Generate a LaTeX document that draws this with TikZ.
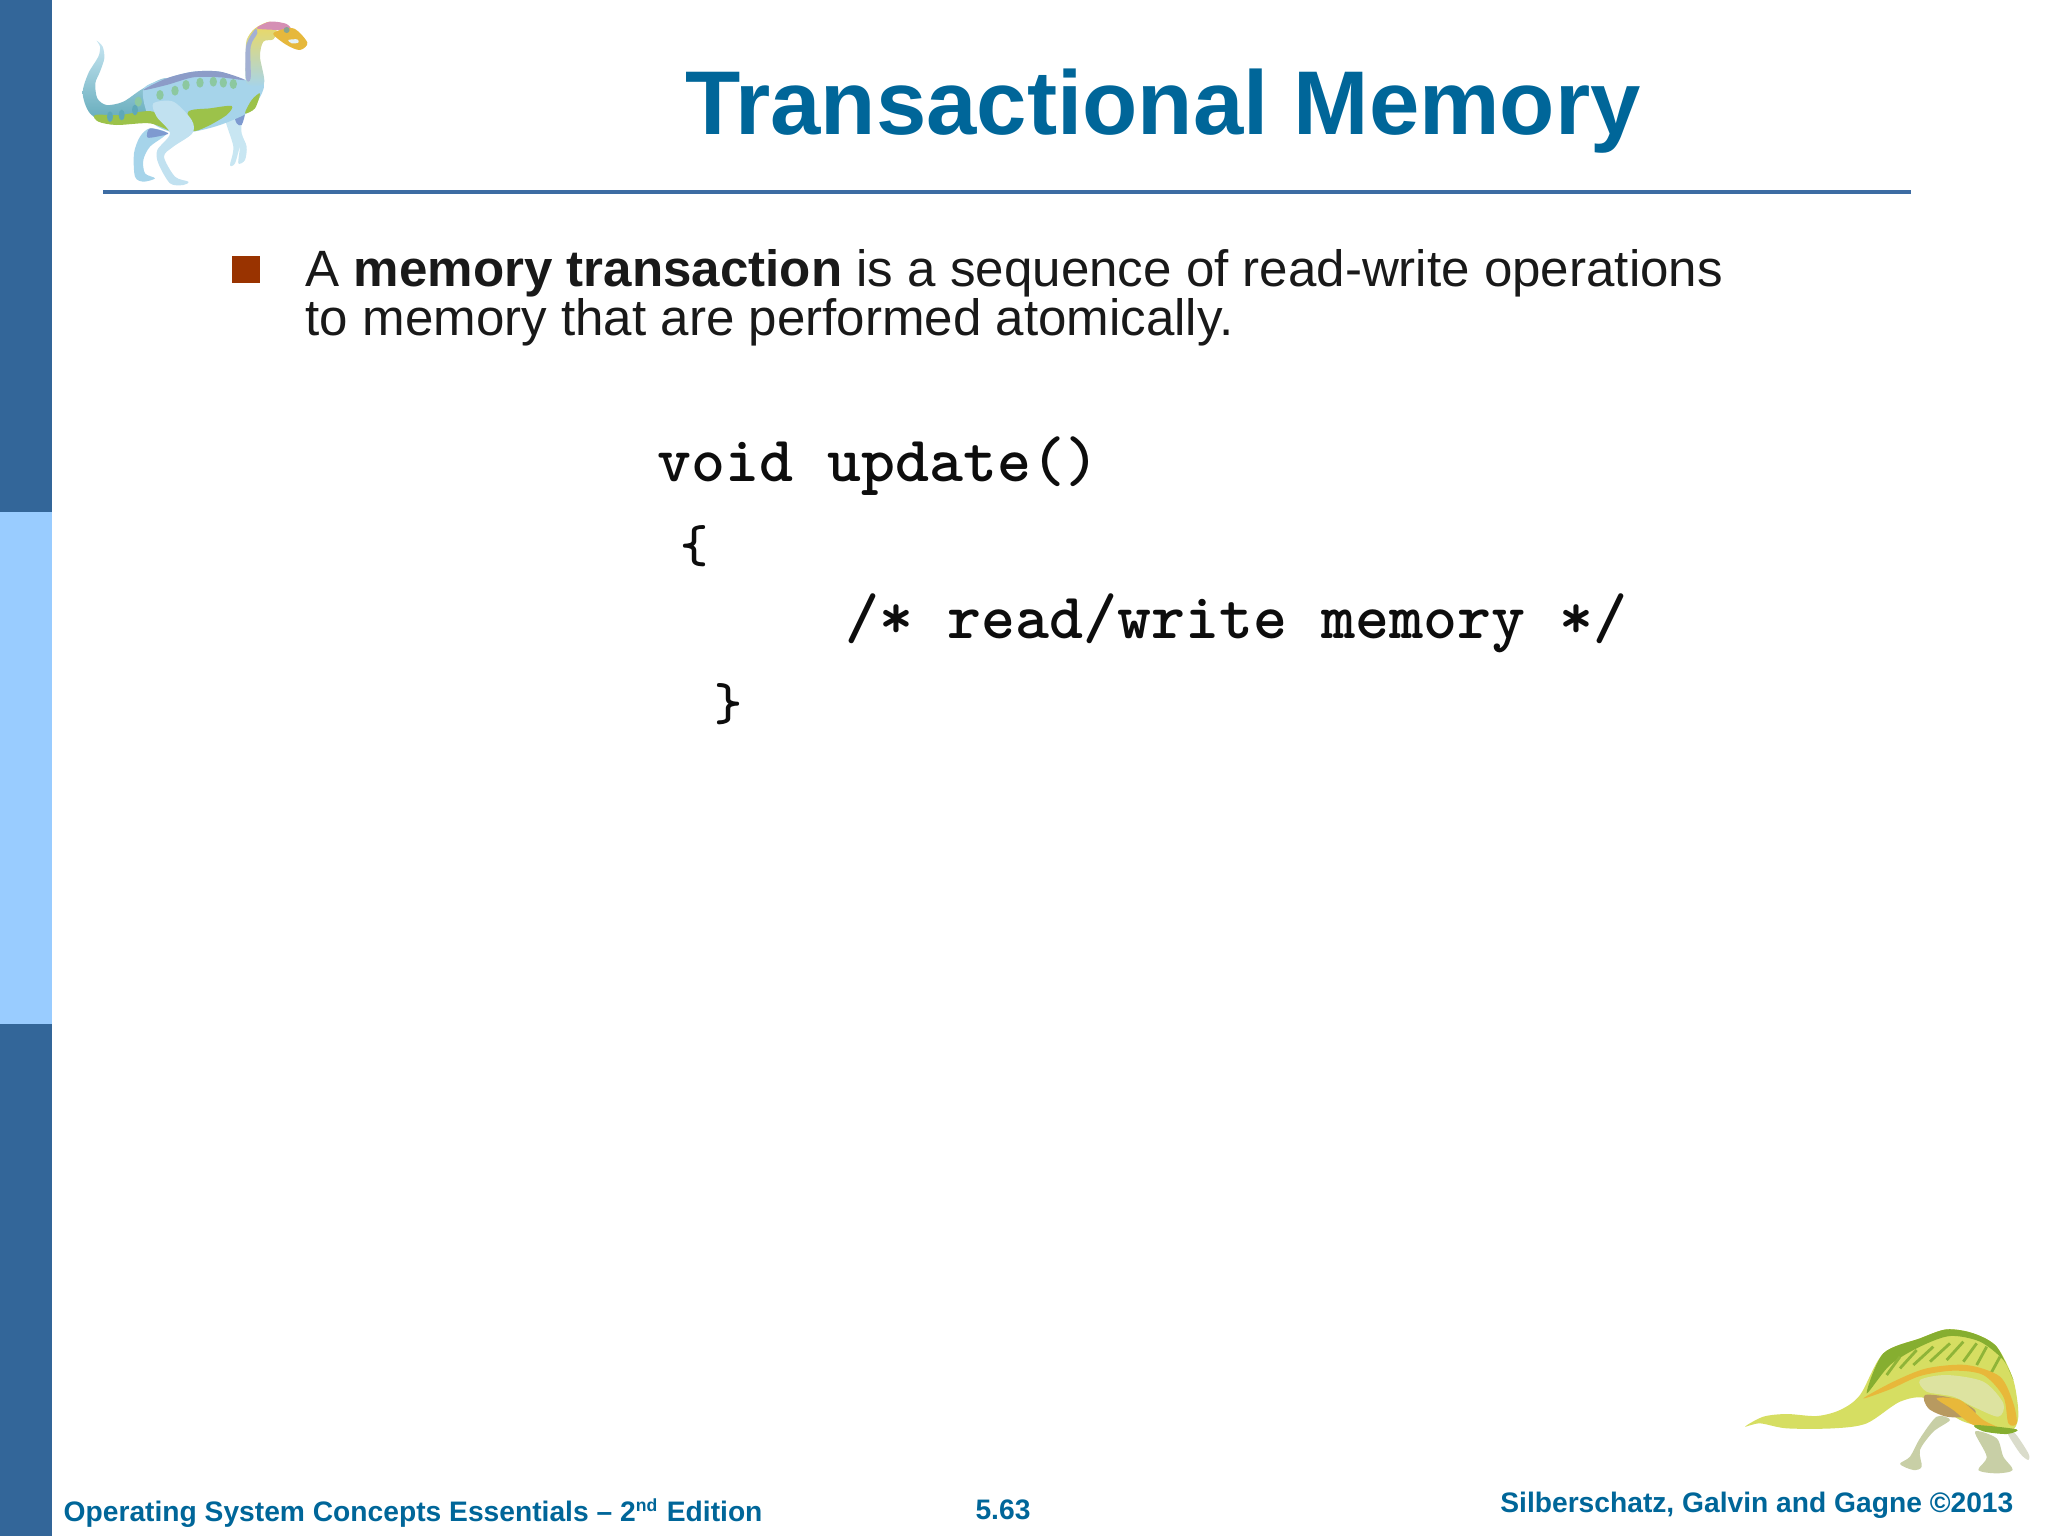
\documentclass[tikz,border=0pt]{standalone}
\usepackage{fontspec}
\setmainfont{Liberation Sans}
\definecolor{bardark}{HTML}{336699}
\definecolor{barlight}{HTML}{99CCFF}
\definecolor{titleblue}{HTML}{006699}
\definecolor{rulecol}{HTML}{3D6CA3}
\definecolor{bulletcol}{HTML}{993300}
\definecolor{dinobody}{HTML}{A6D4EA}
\definecolor{dinolight}{HTML}{C8E6F2}
\definecolor{dinoshade}{HTML}{7E9AD0}
\definecolor{dinoback}{HTML}{8C9CC8}
\definecolor{dinogreen}{HTML}{9CC24A}
\definecolor{dinospot}{HTML}{8CC8A0}
\definecolor{dinoteal}{HTML}{5FA8B8}
\definecolor{dinoyellow}{HTML}{EFD95C}
\definecolor{dinopink}{HTML}{D58FB4}
\definecolor{dinoorange}{HTML}{E6B83C}
\definecolor{spinebody}{HTML}{D6DE62}
\definecolor{spinedark}{HTML}{86AE30}
\definecolor{spinerib}{HTML}{8FB438}
\definecolor{spineorange}{HTML}{E8B83A}
\definecolor{spinepale}{HTML}{DDE3A0}
\definecolor{spinebrown}{HTML}{B89A60}
\definecolor{spineleg}{HTML}{C8CFA6}
\definecolor{spinefoot}{HTML}{DADCCB}
\tikzset{
  bodytext/.style={anchor=base west,inner sep=0pt,text=black!90,font=\fontsize{14.53}{17}\selectfont},
  codetext/.style={anchor=base west,inner sep=0pt,text=black!95,font=\fontsize{18.4}{20}\selectfont\ttfamily\bfseries\addfontfeature{FakeBold=1.2}},
  bracetext/.style={anchor=base west,inner sep=0pt,text=black!95,font=\fontsize{15.2}{18}\selectfont\ttfamily\bfseries\addfontfeature{FakeBold=1.2}},
  foottext/.style={inner sep=0pt,text=titleblue,font=\fontsize{8.02}{10}\selectfont\bfseries},
  skin/.style={fill=#1,draw=none}
}
\begin{document}
\begin{tikzpicture}[x=0.01cm,y=-0.01cm]
\useasboundingbox (0,0) rectangle (2048,1536);
% side bar
\fill[bardark] (0,0) rectangle (52,512);
\fill[barlight] (0,512) rectangle (52,1024);
\fill[bardark] (0,1024) rectangle (52,1536);
% title
\node (title) at (1163,134)[anchor=base,inner sep=0pt,text=titleblue,font=\fontsize{25.74}{30}\selectfont\bfseries]{Transactional Memory};
\draw[rulecol,line width=1.1pt] (103,192)--(1911,192);
% bullet and text
\fill[bulletcol] (232,256) rectangle (260,283);
\node (lineone) at (305,286)[bodytext]{A \textbf{memory transaction} is a sequence of read-write operations};
\node (linetwo) at (305,335)[bodytext]{to memory that are performed atomically.};
% code
\node (codea) at (657,481)[codetext]{void update()};
\node (codeb) at (680,562)[bracetext]{\{};
\node (codec) at (845,638)[codetext]{/* read/write memory */};
\node (coded) at (714,720)[bracetext]{\}};
% footer
\node (footl) at (63,1521)[foottext,anchor=base west]{Operating System Concepts Essentials -- 2\textsuperscript{\fontsize{5}{6}\selectfont nd} Edition};
\node (footm) at (1003,1519)[foottext,anchor=base]{5.63};
\node (footr) at (2014,1512)[foottext,anchor=base east]{Silberschatz, Galvin and Gagne ©2013};
% top dinosaur
\begin{scope}[shift={(60,0)},scale=1/3]
% far legs first
\fill[skin=dinobody] plot[smooth cycle] coordinates {(270,385)(320,400)(270,440)(250,480)(255,520)(285,535)(250,545)(225,530)(222,460)(240,410)};
\fill[skin=dinoshade] plot[smooth cycle] coordinates {(270,385)(325,400)(290,410)(262,412)};
\fill[skin=dinolight] plot[smooth cycle] coordinates {(495,350)(540,345)(545,400)(560,440)(555,480)(535,490)(540,440)(525,490)(510,495)(520,440)};
\fill[skin=dinoshade] plot[smooth cycle] coordinates {(525,345)(555,335)(545,375)(530,370)};
% body
\shade[top color=dinolight,bottom color=dinoteal] plot[smooth cycle] coordinates {(110,122)(128,140)(133,175)(120,215)(106,250)(112,295)(140,315)(190,305)(250,265)(320,235)(345,300)(300,360)(250,362)(150,372)(90,340)(68,280)(85,220)(115,170)(120,140)};
\fill[skin=dinobody] plot[smooth cycle] coordinates {(250,268)(320,235)(400,215)(480,215)(555,240)(600,235)(612,260)(595,300)(560,340)(480,375)(400,395)(330,395)(270,360)};
% neck and head
\shade[top color=dinoyellow,bottom color=dinobody] plot[smooth cycle] coordinates {(560,250)(558,170)(560,120)(585,85)(630,65)(650,90)(640,118)(610,125)(600,170)(612,250)};
\fill[skin=dinoback!80] plot[smooth cycle] coordinates {(558,235)(558,140)(585,88)(592,100)(572,140)(572,235)};
\fill[skin=dinopink] plot[smooth cycle] coordinates {(590,85)(630,65)(680,72)(695,95)(650,90)};
\fill[skin=dinoorange] plot[smooth cycle] coordinates {(640,100)(700,85)(742,128)(720,150)(680,135)};
\fill[skin=dinolight!50!white] plot[smooth cycle] coordinates {(685,120)(712,118)(715,128)(695,130)};
\fill[skin=dinospot!50!gray] (680,90) circle (9);
% belly and back colours
\fill[skin=dinogreen] plot[smooth cycle] coordinates {(385,335)(450,325)(515,318)(500,345)(440,380)(395,392)};
\fill[skin=dinogreen] plot[smooth cycle] coordinates {(105,345)(180,345)(280,335)(340,395)(270,370)(170,375)(115,365)};
\fill[skin=dinogreen] plot[smooth cycle] coordinates {(575,300)(600,280)(585,325)(555,340)};
\fill[skin=dinoback] plot[smooth cycle] coordinates {(250,270)(320,235)(400,215)(480,215)(555,240)(480,232)(400,232)(320,255)};
\foreach \spotx/\spoty in {235/305,300/285,345/272,378/255,420/248,460/245,490/248,520/252}
  \fill[dinospot] (\spotx,\spoty) ellipse (11 and 15);
\foreach \spotx/\spoty in {150/350,185/345,225/330}
  \fill[dinoteal] (\spotx,\spoty) ellipse (9 and 16);
% near leg
\fill[skin=dinobody!70!white] plot[smooth cycle] coordinates {(280,310)(340,305)(395,360)(397,400)(340,440)(312,470)(345,530)(385,545)(370,555)(330,550)(295,490)(292,450)(330,400)(290,350)};
\end{scope}
% bottom dinosaur
\begin{scope}[shift={(1720,1310)},scale=1/3]
% legs
\fill[skin=spineleg] plot[smooth cycle] coordinates {(650,320)(690,330)(640,365)(600,420)(605,470)(580,480)(540,462)(570,440)(600,385)};
\fill[skin=spineleg] plot[smooth cycle] coordinates {(765,365)(830,385)(850,440)(878,480)(830,490)(775,480)(800,440)};
\fill[skin=spinefoot] plot[smooth cycle] coordinates {(860,365)(885,370)(925,430)(925,450)(900,430)};
% body
\fill[skin=spinebody] plot[smooth cycle] coordinates {(75,350)(130,320)(200,312)(290,318)(360,300)(420,255)(490,130)(600,85)(680,58)(760,70)(830,110)(880,210)(895,320)(870,365)(790,350)(720,330)(620,265)(540,275)(440,340)(340,355)(200,355)(120,340)};
\fill[skin=spinedark] plot[smooth cycle] coordinates {(490,130)(600,85)(680,58)(760,70)(830,110)(880,210)(850,150)(780,95)(690,78)(600,110)(510,165)(440,250)};
\foreach \ribx/\riba/\ribb in {500/540/170,540/590/150,580/640/140,630/690/130,680/730/125,730/770/130,770/800/140,810/840/170}
  \draw[spinerib,line width=.8pt] (\ribx,{\ribb+25})--(\riba,{\ribb-30});
\fill[skin=spineorange] plot[smooth cycle] coordinates {(430,265)(520,215)(620,175)(740,165)(840,200)(880,280)(890,340)(865,340)(850,260)(790,195)(700,182)(600,198)(510,238)};
\fill[skin=spinepale] plot[smooth cycle] coordinates {(600,210)(680,195)(790,215)(850,280)(835,320)(760,290)(700,260)(620,245)};
\fill[skin=spinebrown] plot[smooth cycle] coordinates {(615,255)(700,265)(765,300)(750,320)(680,320)(625,295)};
\fill[skin=spineorange] plot[smooth cycle] coordinates {(650,265)(720,270)(790,330)(850,360)(760,345)(700,300)};
\fill[skin=spinedark] plot[smooth cycle] coordinates {(765,345)(890,358)(860,372)(790,364)};
\end{scope}
\end{tikzpicture}
\end{document}
